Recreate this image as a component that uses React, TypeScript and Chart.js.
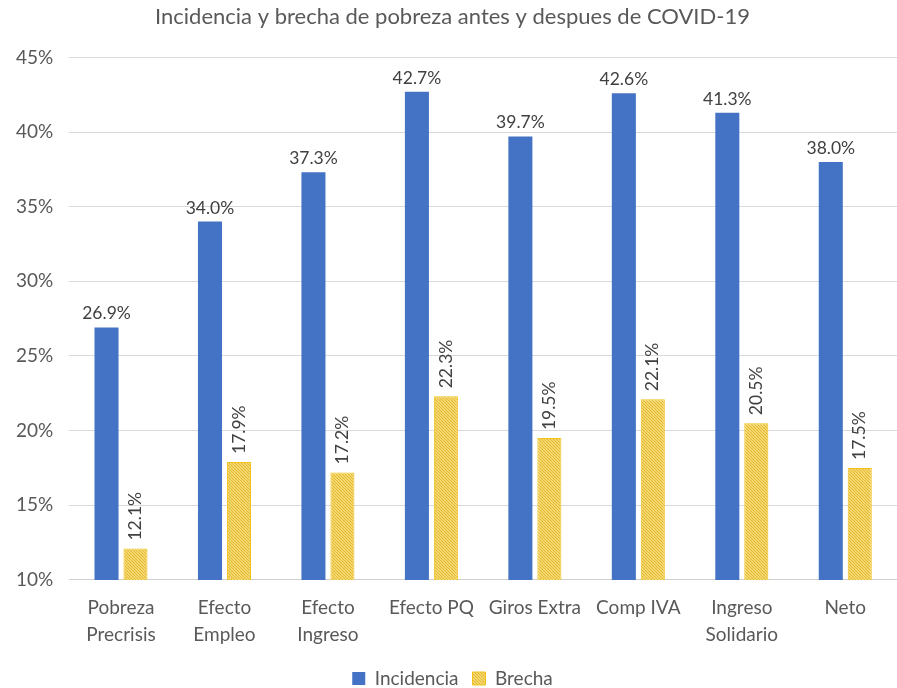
import React, { useEffect, useRef } from "react";
import { Chart, registerables } from "chart.js";

Chart.register(...registerables);

const categories: (string | string[])[] = [
  ["Pobreza", "Precrisis"],
  ["Efecto", "Empleo"],
  ["Efecto", "Ingreso"],
  "Efecto PQ",
  "Giros Extra",
  "Comp IVA",
  ["Ingreso", "Solidario"],
  "Neto",
];
const incidencia = [26.9, 34.0, 37.3, 42.7, 39.7, 42.6, 41.3, 38.0];
const brecha = [12.1, 17.9, 17.2, 22.3, 19.5, 22.1, 20.5, 17.5];
const yTicks = [10, 15, 20, 25, 30, 35, 40, 45];

const FONT = "Lato, 'Open Sans', sans-serif";
const TEXT = "#595959";

function makePattern(): CanvasPattern | string {
  const c = document.createElement("canvas");
  c.width = 6;
  c.height = 6;
  const ctx = c.getContext("2d");
  if (!ctx) return "#f7d865";
  ctx.fillStyle = "#fbe38c";
  ctx.fillRect(0, 0, 6, 6);
  ctx.strokeStyle = "#e3b92e";
  ctx.lineWidth = 1.2;
  ctx.beginPath();
  for (let k = -6; k <= 12; k += 3) {
    ctx.moveTo(k, 0);
    ctx.lineTo(k + 6, 6);
  }
  ctx.stroke();
  return ctx.createPattern(c, "repeat") || "#f7d865";
}

const labelPlugin = {
  id: "valueLabels",
  afterDatasetsDraw(chart: any) {
    const ctx = chart.ctx;
    ctx.save();
    ctx.fillStyle = "#404040";
    ctx.font = `17.5px ${FONT}`;
    chart.data.datasets.forEach((ds: any, di: number) => {
      const meta = chart.getDatasetMeta(di);
      meta.data.forEach((bar: any, i: number) => {
        const txt = Number(ds.data[i]).toFixed(1) + "%";
        if (di === 0) {
          ctx.textAlign = "center";
          ctx.textBaseline = "bottom";
          ctx.fillText(txt, bar.x, bar.y - 5);
        } else {
          ctx.save();
          ctx.translate(bar.x, bar.y - 8);
          ctx.rotate(-Math.PI / 2);
          ctx.textAlign = "left";
          ctx.textBaseline = "middle";
          ctx.fillText(txt, 0, 0);
          ctx.restore();
        }
      });
    });
    ctx.restore();
  },
};

export default function App() {
  const ref = useRef<HTMLCanvasElement>(null);
  useEffect(() => {
    document.body.style.margin = "0";
    const pattern = makePattern();
    const chart = new Chart(ref.current!, {
      type: "bar",
      data: {
        labels: categories,
        datasets: [
          {
            label: "Incidencia",
            data: incidencia,
            backgroundColor: "#4472C4",
            borderWidth: 0,
            categoryPercentage: 0.56,
            barPercentage: 0.83,
          },
          {
            label: "Brecha",
            data: brecha,
            backgroundColor: pattern as any,
            borderColor: "#f2c21a",
            borderWidth: 1,
            categoryPercentage: 0.56,
            barPercentage: 0.83,
          },
        ],
      },
      options: {
        animation: false,
        responsive: false,
        layout: { padding: { left: 0, right: -8, top: 0, bottom: -10 } },
        plugins: {
          title: {
            display: true,
            text: "Incidencia y brecha de pobreza antes y despues de COVID-19",
            color: TEXT,
            font: { family: FONT, size: 22, weight: "normal" },
            padding: { top: 4, bottom: 27 },
          },
          legend: {
            position: "bottom",
            labels: {
              color: TEXT,
              font: { family: FONT, size: 19 },
              boxWidth: 13,
              boxHeight: 13,
              padding: 14,
            },
          },
          tooltip: { enabled: false },
        },
        scales: {
          x: {
            grid: { display: false },
            border: { color: "#d0d0d0" },
            ticks: {
              color: TEXT,
              font: { family: FONT, size: 19, lineHeight: 1.45 },
              maxRotation: 0,
              autoSkip: false,
              padding: 6,
            },
          },
          y: {
            min: 10,
            max: 45,
            afterBuildTicks: (axis: any) => {
              axis.ticks = yTicks.map((v) => ({ value: v }));
            },
            grid: { color: "#d9d9d9", drawTicks: false },
            border: { display: false },
            ticks: {
              color: TEXT,
              font: { family: FONT, size: 19 },
              padding: 16,
              callback: (v: any) => v + "%",
            },
          },
        },
      },
      plugins: [labelPlugin],
    });
    return () => chart.destroy();
  }, []);
  return (
    <div style={{ width: 897, height: 688, background: "#fff" }}>
      <canvas ref={ref} width={897} height={688} />
    </div>
  );
}
